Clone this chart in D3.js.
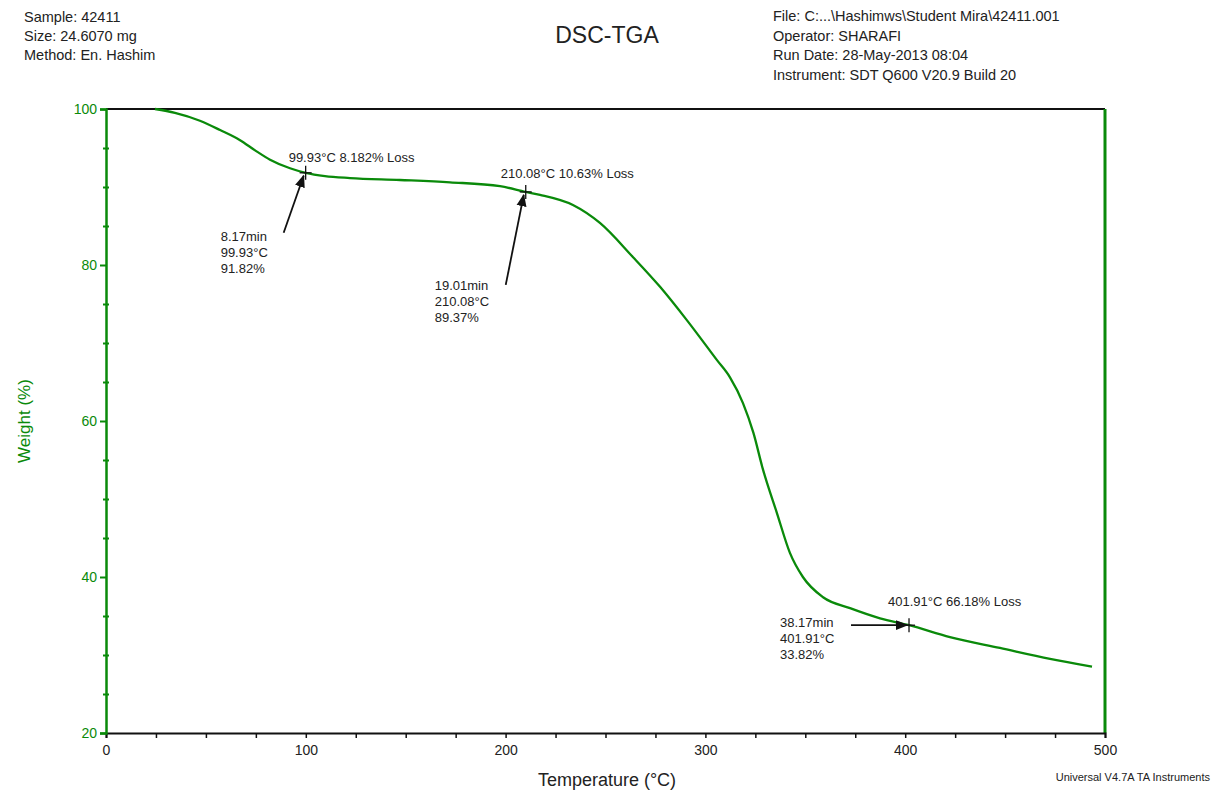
<!DOCTYPE html>
<html><head><meta charset="utf-8">
<script src="https://cdn.jsdelivr.net/npm/d3@7"></script>
<style>body{margin:0;background:#fff;}svg{display:block;font-family:Arial,"Liberation Sans",sans-serif;}</style>
</head><body>
<svg id="c" width="1213" height="791"></svg>
<script>
const temperature = [24.5,34.5,47,57.1,67.1,74.6,82.1,92.1,99.93,109.6,122.1,147.1,172.2,197.2,210.08,217.2,233.7,247.2,263.8,277.3,290.8,305.8,312.3,318.8,324,328.8,335.8,342.3,348.8,358.9,372.4,387.4,401.91,422.4,447.4,472.5,493.5];
const weight      = [100,99.5,98.5,97.3,96.0,94.7,93.5,92.4,91.82,91.4,91.15,90.9,90.6,90.1,89.37,89.0,87.7,85.4,81.0,77.2,72.9,67.8,65.6,62.3,58.5,53.8,48.2,43.1,40.0,37.4,36.0,34.7,33.82,32.3,30.9,29.5,28.5];
const xTicks = [0,100,200,300,400,500];
const yTicks = [20,40,60,80,100];
const headerLeft = ["Sample: 42411","Size:  24.6070 mg","Method: En. Hashim"];
const headerRight = ["File: C:...\\Hashimws\\Student Mira\\42411.001","Operator: SHARAFI","Run Date: 28-May-2013 08:04","Instrument: SDT Q600 V20.9 Build 20"];
const annTemp = [99.93,210.08,401.91];
const annWeight = [91.82,89.37,33.82];
const annTitle = ["99.93°C 8.182% Loss","210.08°C 10.63% Loss","401.91°C 66.18% Loss"];
const annLines = [["8.17min","99.93°C","91.82%"],["19.01min","210.08°C","89.37%"],["38.17min","401.91°C","33.82%"]];

const svg = d3.select("#c");
const L=106,R=1105,T=109,B=733;
const x = d3.scaleLinear().domain([0,500]).range([L,R]);
const y = d3.scaleLinear().domain([20,100]).range([B,T]);
const green="#0a8a0a";

// header
svg.append("g").selectAll("text").data(headerLeft).join("text")
  .attr("x",24).attr("y",(d,i)=>22+i*19).attr("font-size",14.5).attr("fill","#222").text(d=>d);
svg.append("g").selectAll("text").data(headerRight).join("text")
  .attr("x",773).attr("y",(d,i)=>21+i*19.5).attr("font-size",14.5).attr("fill","#222").text(d=>d);
svg.append("text").attr("x",607).attr("y",43).attr("text-anchor","middle").attr("font-size",23).attr("fill","#222").text("DSC-TGA");

// frame
svg.append("line").attr("x1",L).attr("x2",R).attr("y1",T).attr("y2",T).attr("stroke","#111").attr("stroke-width",2);
svg.append("line").attr("x1",R).attr("x2",R).attr("y1",T).attr("y2",B).attr("stroke",green).attr("stroke-width",3);

// x axis
const xa = svg.append("g").attr("transform",`translate(0,${B})`);
xa.call(d3.axisBottom(x).tickValues(d3.range(0,501,25)).tickSize(5).tickFormat(d=>xTicks.includes(d)?d:""));
xa.select(".domain").attr("stroke","#111").attr("stroke-width",2);
xa.selectAll(".tick line").attr("stroke","#111").attr("stroke-width",1.5);
xa.selectAll(".tick text").attr("font-size",14).attr("fill","#222").attr("dy","1em").attr("font-family","Arial, Liberation Sans, sans-serif");
svg.append("text").attr("x",607).attr("y",786).attr("text-anchor","middle").attr("font-size",18).attr("fill","#222").text("Temperature (°C)");
svg.append("text").attr("x",1210).attr("y",781).attr("text-anchor","end").attr("font-size",11).attr("fill","#222").text("Universal V4.7A TA Instruments");

// y axis
const ya = svg.append("g").attr("transform",`translate(${L},0)`);
ya.call(d3.axisLeft(y).tickValues(d3.range(20,101,5)).tickSize(6).tickFormat(d=>yTicks.includes(d)?d:""));
ya.select(".domain").attr("stroke",green).attr("stroke-width",2.5);
ya.selectAll(".tick line").attr("stroke",green).attr("stroke-width",2).attr("x2",d=>yTicks.includes(d)?-6:3).attr("x1",d=>yTicks.includes(d)?0:-3);
ya.selectAll(".tick text").attr("font-size",14).attr("fill",green).attr("font-family","Arial, Liberation Sans, sans-serif");
svg.append("text").attr("transform","translate(30,421) rotate(-90)").attr("text-anchor","middle").attr("font-size",17).attr("fill",green).text("Weight (%)");

// curve
const line = d3.line().x(d=>x(d[0])).y(d=>y(d[1])).curve(d3.curveMonotoneX);
svg.append("path").datum(d3.zip(temperature,weight)).attr("d",line).attr("fill","none").attr("stroke",green).attr("stroke-width",2.3);

// annotations
const defs = svg.append("defs");
defs.append("marker").attr("id","ah").attr("viewBox","0 0 10 10").attr("refX",9).attr("refY",5)
  .attr("markerWidth",7).attr("markerHeight",7).attr("orient","auto")
  .append("path").attr("d","M0,1 L10,5 L0,9 Z").attr("fill","#111");
const txtOff = [[-85,68],[-91,98],[-129,2]];
const arrowStart = [[-22,60],[-20,93],[-58,0]];
const titleOff = [[-17,-11],[-25,-14],[-21,-19]];
annTemp.forEach((t,i)=>{
  const px=x(t), py=y(annWeight[i]);
  svg.append("line").attr("x1",px-6).attr("x2",px+6).attr("y1",py).attr("y2",py).attr("stroke","#111").attr("stroke-width",1.3);
  svg.append("line").attr("x1",px).attr("x2",px).attr("y1",py-7).attr("y2",py+7).attr("stroke","#111").attr("stroke-width",1.3);
  svg.append("line").attr("x1",px+arrowStart[i][0]).attr("y1",py+arrowStart[i][1]).attr("x2",px-2).attr("y2",py+(i==2?0:3))
    .attr("stroke","#111").attr("stroke-width",1.8).attr("marker-end","url(#ah)");
  svg.append("text").attr("x",px+titleOff[i][0]).attr("y",py+titleOff[i][1]).attr("font-size",13).attr("fill","#222").text(annTitle[i]);
  annLines[i].forEach((s,j)=>{
    svg.append("text").attr("x",px+txtOff[i][0]).attr("y",py+txtOff[i][1]+j*16).attr("font-size",13).attr("fill","#222").text(s);
  });
});
</script>
</body></html>
